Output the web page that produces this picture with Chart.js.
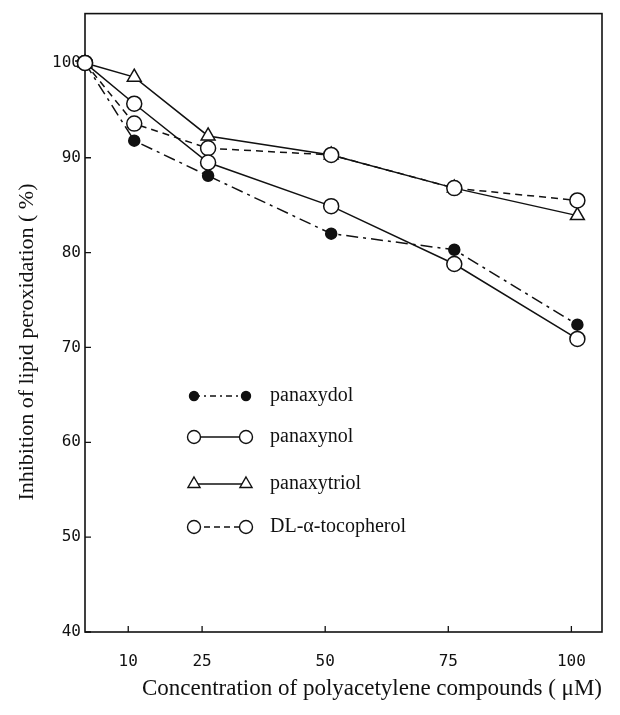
<!DOCTYPE html>
<html>
<head>
<meta charset="utf-8">
<script src="https://cdn.jsdelivr.net/npm/chart.js@4.4.0/dist/chart.umd.min.js"></script>
<style>
  html, body { margin: 0; padding: 0; background: #fff; }
</style>
</head>
<body>
<canvas id="chart" width="620" height="715"></canvas>
<script>
// Values
const concentrations = [0, 10, 25, 50, 75, 100];
const panaxydol   = [100, 91.8, 88.1, 82.0, 80.3, 72.4];
const panaxynol   = [100, 95.7, 89.5, 84.9, 78.8, 70.9];
const panaxytriol = [100, 98.5, 92.3, 90.3, 86.8, 83.9];
const tocopherol  = [100, 93.6, 91.0, 90.3, 86.8, 85.5];

const xTickValues = [10, 25, 50, 75, 100];
const yTickValues = [40, 50, 60, 70, 80, 90, 100];

const INK = '#111';
const SERIF = '"Liberation Serif", "DejaVu Serif", serif';
const MONO = '"DejaVu Sans Mono", "Liberation Mono", monospace';

function toPoints(ys) {
    return concentrations.map((x, i) => ({ x: x, y: ys[i] }));
}

// order: lower numbers end up on top
const seriesStyles = [
    { label: 'panaxydol', data: panaxydol, dash: [12, 5, 3, 5], legendDash: [6, 4, 2, 4], pointStyle: 'circle', radius: 5.5, fill: INK, order: 1 },
    { label: 'panaxynol', data: panaxynol, dash: [], legendDash: [], pointStyle: 'circle', radius: 7.5, fill: '#fff', order: 0 },
    { label: 'panaxytriol', data: panaxytriol, dash: [], legendDash: [], pointStyle: 'triangle', radius: 8, fill: '#fff', order: 2 },
    { label: 'DL-\u03b1-tocopherol', data: tocopherol, dash: [7, 5], legendDash: [6, 4], pointStyle: 'circle', radius: 7.5, fill: '#fff', order: 0 }
];

// frame and inward tick marks
const framePlugin = {
    id: 'frame',
    beforeDatasetsDraw(chart) {
        const { ctx, chartArea: a, scales } = chart;
        ctx.save();
        ctx.strokeStyle = INK;
        ctx.lineWidth = 1.6;
        ctx.strokeRect(a.left, a.top, a.right - a.left, a.bottom - a.top);
        ctx.lineWidth = 1.3;
        ctx.beginPath();
        yTickValues.forEach(v => {
            const y = scales.y.getPixelForValue(v);
            ctx.moveTo(a.left, y);
            ctx.lineTo(a.left + 6, y);
        });
        xTickValues.forEach(v => {
            const x = scales.x.getPixelForValue(v) - 6;
            ctx.moveTo(x, a.bottom);
            ctx.lineTo(x, a.bottom - 6);
        });
        ctx.stroke();
        ctx.restore();
    }
};

// legend drawn inside the plot
const insideLegend = {
    id: 'insideLegend',
    afterDatasetsDraw(chart) {
        const { ctx } = chart;
        const rows = [396, 437, 484, 527];
        const x1 = 194, x2 = 246, textX = 270;
        ctx.save();
        seriesStyles.forEach((s, i) => {
            const y = rows[i];
            ctx.strokeStyle = INK;
            ctx.lineWidth = 1.4;
            ctx.setLineDash(s.legendDash);
            ctx.beginPath();
            ctx.moveTo(x1, y);
            ctx.lineTo(x2, y);
            ctx.stroke();
            ctx.setLineDash([]);
            [x1, x2].forEach(x => {
                ctx.fillStyle = s.fill;
                ctx.strokeStyle = INK;
                ctx.lineWidth = 1.4;
                Chart.helpers.drawPoint(ctx, {
                    pointStyle: s.pointStyle,
                    radius: s.radius - 1,
                    borderWidth: 1.4,
                    rotation: 0
                }, x, y);
            });
            ctx.fillStyle = INK;
            ctx.font = '20px ' + SERIF;
            ctx.textBaseline = 'middle';
            ctx.textAlign = 'left';
            ctx.fillText(s.label, textX, y);
        });
        ctx.restore();
    }
};

new Chart(document.getElementById('chart').getContext('2d'), {
    type: 'line',
    data: {
        datasets: seriesStyles.map(s => ({
            label: s.label,
            data: toPoints(s.data),
            borderColor: INK,
            borderWidth: 1.5,
            borderDash: s.dash,
            pointStyle: s.pointStyle,
            pointRadius: s.radius,
            pointBorderWidth: 1.5,
            pointBorderColor: INK,
            pointBackgroundColor: s.fill,
            fill: false,
            tension: 0,
            clip: false,
            order: s.order
        }))
    },
    options: {
        responsive: false,
        animation: false,
        layout: { padding: { left: 0, top: 12, right: 18, bottom: 0 } },
        plugins: {
            legend: { display: false },
            tooltip: { enabled: false }
        },
        scales: {
            x: {
                type: 'linear',
                min: 0,
                max: 105,
                grid: { display: false, drawTicks: false },
                border: { display: false },
                afterBuildTicks: scale => {
                    scale.ticks = xTickValues.map(v => ({ value: v }));
                },
                afterFit: scale => { scale.height = 83; },
                ticks: {
                    color: INK,
                    font: { family: MONO, size: 16 },
                    padding: 20,
                    labelOffset: -6,
                    maxRotation: 0,
                    autoSkip: false
                },
                title: {
                    display: true,
                    text: 'Concentration of polyacetylene compounds ( \u03bcM)',
                    align: 'end',
                    color: INK,
                    font: { family: SERIF, size: 23 },
                    padding: { top: 0, bottom: 12 }
                }
            },
            y: {
                type: 'linear',
                min: 40,
                max: 105.2,
                grid: { display: false, drawTicks: false },
                border: { display: false },
                afterBuildTicks: scale => {
                    scale.ticks = yTickValues.map(v => ({ value: v }));
                },
                afterFit: scale => { scale.width = 85; },
                ticks: {
                    color: INK,
                    font: { family: MONO, size: 16 },
                    padding: 4
                },
                title: {
                    display: true,
                    // trailing spaces push the centred text down a little, as in the figure
                    text: 'Inhibition of lipid peroxidation ( %)\u00a0\u00a0\u00a0\u00a0\u00a0\u00a0\u00a0',
                    color: INK,
                    font: { family: SERIF, size: 22 },
                    padding: { top: 14, bottom: 0 }
                }
            }
        }
    },
    plugins: [framePlugin, insideLegend]
});
</script>
</body>
</html>
